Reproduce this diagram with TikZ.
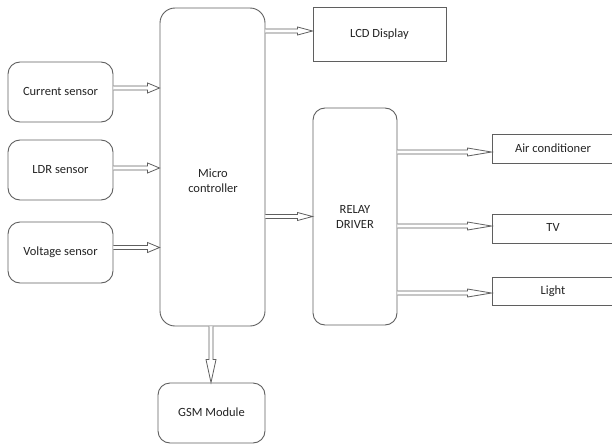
\documentclass[tikz,border=0pt]{standalone}
\usepackage{fontspec}
\setmainfont{Carlito}
\usetikzlibrary{calc}
\definecolor{lc}{RGB}{95,95,95}
\definecolor{tc}{RGB}{35,35,35}
\begin{document}
\begin{tikzpicture}[x=1pt,y=-1pt,
  every node/.style={font=\fontsize{12.5}{15}\selectfont, text=tc, inner sep=0pt},
  rbox/.style={draw=lc, line width=0.9pt, rounded corners=12pt},
  sbox/.style={draw=lc, line width=0.9pt},
  barrow/.style n args={3}{draw=lc, line width=0.8pt, line join=miter, fill=white,
    to path={($(\tikztostart)!#2!90:(\tikztotarget)$)
      -- ($(\tikztotarget)!#1!(\tikztostart)!#2!90:(\tikztotarget)$)
      -- ($(\tikztotarget)!#1!(\tikztostart)!#3!90:(\tikztotarget)$)
      -- (\tikztotarget)
      -- ($(\tikztotarget)!#1!(\tikztostart)!#3!-90:(\tikztotarget)$)
      -- ($(\tikztotarget)!#1!(\tikztostart)!#2!-90:(\tikztotarget)$)
      -- ($(\tikztostart)!#2!-90:(\tikztotarget)$)}}
]
\useasboundingbox (0,0) rectangle (612,444);

% boxes
\node[rbox, minimum width=105pt, minimum height=60pt] (cur) at (60.5,92) {\raisebox{1.5pt}{Current sensor}};
\node[rbox, minimum width=105pt, minimum height=60pt] (ldr) at (60.5,170) {\raisebox{1.5pt}{LDR sensor}};
\node[rbox, minimum width=105pt, minimum height=61pt] (volt) at (60.5,252.5) {\raisebox{1.5pt}{Voltage sensor}};
\node[rbox, rounded corners=15pt, minimum width=105pt, minimum height=318pt] (micro) at (212.5,167) {};
\node[align=center] (microtxt) at (213,181) {Micro\\controller};
\node[sbox, minimum width=133pt, minimum height=54pt] (lcd) at (379.5,34) {LCD Display};
\node[rbox, minimum width=84pt, minimum height=217pt, align=center] (relay) at (355,216.5) {RELAY\\DRIVER};
\node[rbox, minimum width=107pt, minimum height=60pt] (gsm) at (211.5,413) {\raisebox{1.5pt}{GSM Module}};
\node[sbox, minimum width=122pt, minimum height=29pt] (ac) at (553,148.5) {\raisebox{1.5pt}{Air conditioner}};
\node[sbox, minimum width=122pt, minimum height=29pt] (tv) at (553,228.5) {\raisebox{1.5pt}{TV}};
\node[sbox, minimum width=122pt, minimum height=28pt] (light) at (553,291) {\raisebox{2pt}{Light}};

% connector end points
\coordinate (c1) at ([yshift=4pt]cur.east);
\coordinate (c1e) at (c1 -| micro.west);
\coordinate (c2) at ([yshift=2pt]ldr.east);
\coordinate (c2e) at (c2 -| micro.west);
\coordinate (c3) at ([yshift=5pt]volt.east);
\coordinate (c3e) at (c3 -| micro.west);
\coordinate (c4) at (micro.east |- 0,31);
\coordinate (c4e) at (c4 -| lcd.west);
\coordinate (c5) at (micro.east |- relay.west);
\coordinate (c6) at ([yshift=-3.5pt]relay.east |- ac.west);
\coordinate (c6e) at (c6 -| ac.west);
\coordinate (c7) at ([yshift=2.5pt]relay.east |- tv.west);
\coordinate (c7e) at (c7 -| tv.west);
\coordinate (c8) at ([yshift=-2pt]relay.east |- light.west);
\coordinate (c8e) at (c8 -| light.west);
\coordinate (c9) at ([xshift=-1.5pt]micro.south);
\coordinate (c9e) at (c9 |- gsm.north);

% block arrows
\draw[barrow={12pt}{2pt}{5pt}] (c1) to (c1e);
\draw[barrow={12pt}{2pt}{5pt}] (c2) to (c2e);
\draw[barrow={12pt}{2pt}{5pt}] (c3) to (c3e);
\draw[barrow={15pt}{2pt}{4pt}] (c4) to (c4e);
\draw[barrow={15pt}{2pt}{4pt}] (c5) to (relay.west);
\draw[barrow={24pt}{2pt}{4pt}] (c6) to (c6e);
\draw[barrow={24pt}{2pt}{4pt}] (c7) to (c7e);
\draw[barrow={24pt}{2pt}{4pt}] (c8) to (c8e);
\draw[barrow={23pt}{2pt}{5pt}] (c9) to (c9e);
\end{tikzpicture}
\end{document}
